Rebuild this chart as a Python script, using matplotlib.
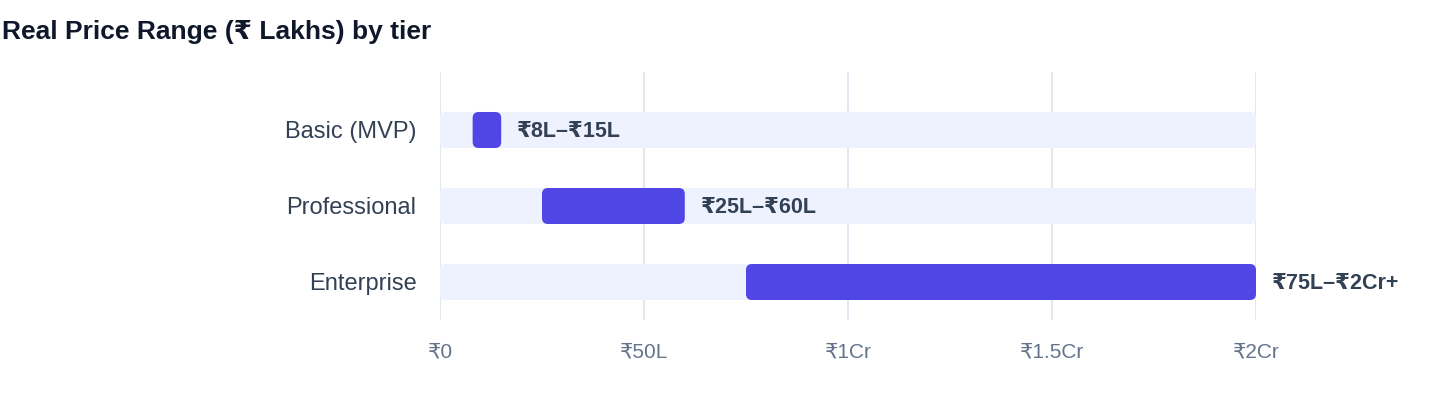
import matplotlib
matplotlib.use('Agg')
import matplotlib.pyplot as plt
from matplotlib.patches import FancyBboxPatch

plt.rcParams['font.family'] = ['Liberation Sans', 'DejaVu Sans']

# data (values in Lakhs)
tiers = ["Basic (MVP)", "Professional", "Enterprise"]
low = [8, 25, 75]
high = [15, 60, 200]
range_labels = ["₹8L–₹15L", "₹25L–₹60L", "₹75L–₹2Cr+"]
ticks = [0, 50, 100, 150, 200]
tick_labels = ["₹0", "₹50L", "₹1Cr", "₹1.5Cr", "₹2Cr"]
axis_max = 200

bar_color = "#4F46E5"
track_color = "#EEF2FF"
grid_color = "#E2E8F0"

W, H = 1440, 408
fig = plt.figure(figsize=(W / 100, H / 100), dpi=100)
ax = fig.add_axes([440 / W, (H - 320) / H, 816 / W, 248 / H])

ax.set_xlim(0, axis_max)
ax.set_ylim(2.5, -0.763)

# how many data units per pixel, for rounded corners
ux = axis_max / 816
uy = (2.5 + 0.763) / 248
aspect = uy / ux
bar_h = 36 * uy
r = 6 * ux

def rounded(x0, x1, y, color, z):
    p = FancyBboxPatch((x0, y - bar_h / 2), x1 - x0, bar_h,
                       boxstyle="round,pad=0,rounding_size=%f" % r,
                       mutation_aspect=aspect, facecolor=color,
                       edgecolor="none", zorder=z)
    ax.add_patch(p)

for i, name in enumerate(tiers):
    rounded(0, axis_max, i, track_color, 2)
    rounded(low[i], high[i], i, bar_color, 3)
    ax.annotate(range_labels[i], (high[i], i), xytext=(11.5, -1),
                textcoords="offset points", va="center", ha="left",
                fontsize=15.5, fontweight="bold", color="#334155", zorder=4)

ax.set_yticks(range(len(tiers)))
ax.set_yticklabels(tiers, fontsize=17, color="#334155")
ax.set_xticks(ticks)
ax.set_xticklabels(tick_labels, fontsize=15, color="#64748B")
ax.tick_params(axis="both", length=0)
ax.tick_params(axis="x", pad=16)
ax.tick_params(axis="y", pad=17)

for t in ticks:
    ax.axvline(t, color=grid_color, lw=1.5, zorder=1)

for s in ax.spines.values():
    s.set_visible(False)

fig.text(2 / W, 1 - 32 / H, "Real Price Range (₹ Lakhs) by tier",
         fontsize=19, fontweight="bold", color="#0F172A",
         ha="left", va="center")

fig.savefig("out.png", dpi=100)
